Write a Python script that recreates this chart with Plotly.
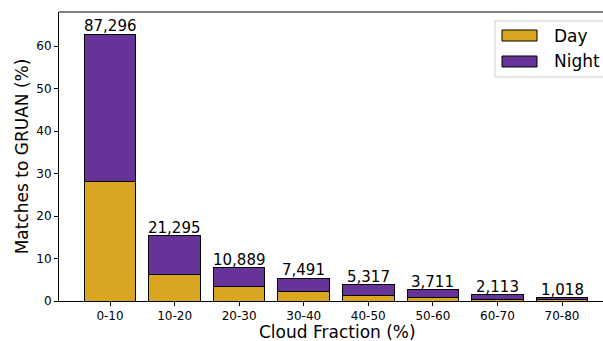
import plotly.graph_objects as go

# Cloud-fraction bins and match statistics
bins = ["0-10", "10-20", "20-30", "30-40", "40-50", "50-60", "60-70", "70-80"]
match_counts = [87296, 21295, 10889, 7491, 5317, 3711, 2113, 1018]
day_pct = [28.1, 6.35, 3.3, 2.2, 1.4, 0.87, 0.35, 0.25]

total_matches = sum(match_counts)
total_pct = [100.0 * c / total_matches for c in match_counts]
night_pct = [t - d for t, d in zip(total_pct, day_pct)]

DAY_COLOR = "#DAA520"
NIGHT_COLOR = "#663399"
FONT = "DejaVu Sans"

# plot area in pixels
L, R, T, B = 59, 603, 12, 301
W, H = R - L, B - T


def px(x):
    return (x - L) / W


def py(y):
    return (B - y) / H


fig = go.Figure()
fig.add_trace(go.Bar(x=bins, y=day_pct, name="Day", marker_color=DAY_COLOR,
                     marker_line=dict(color="black", width=1), width=0.8,
                     showlegend=False))
fig.add_trace(go.Bar(x=bins, y=night_pct, name="Night", marker_color=NIGHT_COLOR,
                     marker_line=dict(color="black", width=1), width=0.8,
                     showlegend=False))

# Count labels above each stacked bar
for b, t, c in zip(bins, total_pct, match_counts):
    fig.add_annotation(x=b, y=t, text=f"{c:,}", showarrow=False,
                       yanchor="bottom", yshift=-3,
                       font=dict(family=FONT, size=15, color="black"))

# Top spine
fig.add_shape(type="line", xref="paper", yref="paper", x0=0, x1=1, y0=1, y1=1,
              line=dict(color="black", width=1))

# Legend box drawn in paper space
fig.add_shape(type="rect", xref="paper", yref="paper",
              x0=px(495), x1=1.02, y0=py(77), y1=py(21),
              line=dict(color="#cccccc", width=1), fillcolor="white", layer="above")
for name, color, yc in [("Day", DAY_COLOR, 35.5), ("Night", NIGHT_COLOR, 61.5)]:
    fig.add_shape(type="rect", xref="paper", yref="paper",
                  x0=px(502), x1=px(537), y0=py(yc + 5.5), y1=py(yc - 5.5),
                  line=dict(color="black", width=1), fillcolor=color, layer="above")
    fig.add_annotation(xref="paper", yref="paper", x=px(552), y=py(yc),
                       text=name, showarrow=False, xanchor="left", yanchor="middle",
                       font=dict(family=FONT, size=17, color="black"))

# X axis title
fig.add_annotation(xref="paper", yref="paper", x=px(337), y=py(331.5),
                   text="Cloud Fraction (%)", showarrow=False,
                   xanchor="center", yanchor="middle",
                   font=dict(family=FONT, size=17, color="black"))

fig.update_layout(
    barmode="stack",
    width=603, height=341,
    margin=dict(l=L, r=603 - R, t=T, b=341 - B),
    plot_bgcolor="white", paper_bgcolor="white",
    font=dict(family=FONT, color="black"),
    bargap=0.2,
)
fig.update_xaxes(
    range=[-0.79, 7.635], showline=True, linecolor="black", linewidth=1,
    ticks="outside", ticklen=4, tickcolor="black",
    tickfont=dict(family=FONT, size=12),
    showgrid=False,
)
fig.update_yaxes(
    range=[0, 68], showline=True, linecolor="black", linewidth=1,
    ticks="outside", ticklen=4, tickcolor="black", tickvals=[0, 10, 20, 30, 40, 50, 60],
    tickfont=dict(family=FONT, size=12),
    title=dict(text="Matches to GRUAN (%)", font=dict(family=FONT, size=17), standoff=3),
    showgrid=False, zeroline=False,
)

fig.write_html("out.html")
